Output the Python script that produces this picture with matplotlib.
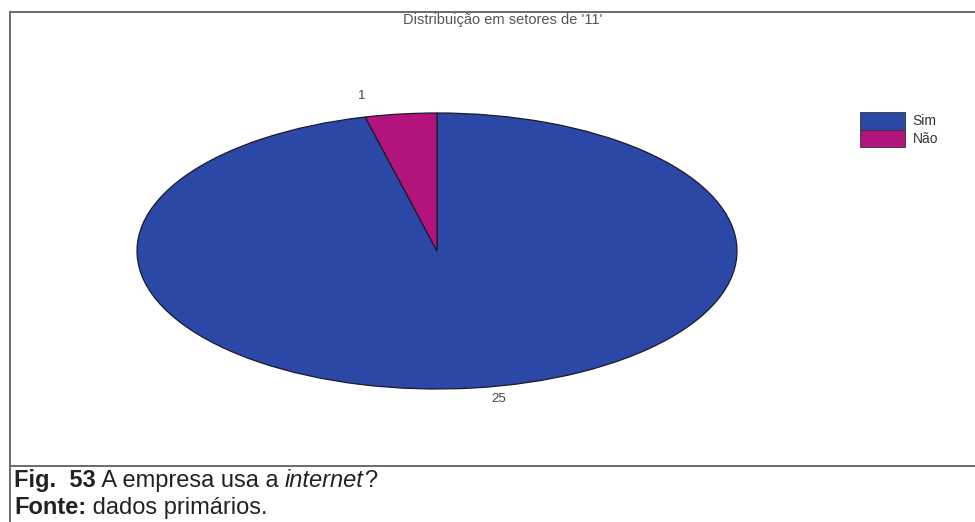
import matplotlib
matplotlib.use("Agg")
import matplotlib.pyplot as plt
from matplotlib.lines import Line2D
from matplotlib.patches import Patch

plt.rcParams['font.family'] = ['Liberation Sans', 'DejaVu Sans']

categories = ["Sim", "Não"]
counts = [25, 1]
colors = ["#2b48a6", "#b3147c"]
title = "Distribuição em setores de '11'"

W, H = 975, 522
fig = plt.figure(figsize=(W / 100, H / 100), dpi=100)
fig.patch.set_facecolor("white")


def fx(px):
    return px / W


def fy(py):
    return 1 - py / H


# frame around the chart area
frame_kw = dict(color="#6a6a6a", lw=1.4, transform=fig.transFigure)
fig.add_artist(Line2D([fx(10), fx(975)], [fy(12), fy(12)], **frame_kw))
fig.add_artist(Line2D([fx(10), fx(10)], [fy(12), fy(522)], **frame_kw))
fig.add_artist(Line2D([fx(10), fx(975)], [fy(466), fy(466)], **frame_kw))

fig.text(fx(503), fy(24), title, ha="center", va="baseline", fontsize=10.5, color="#555555")

# stretched pie (ellipse)
cx, cy, rx, ry = 437, 251, 300, 138
ax = fig.add_axes([fx(cx - rx), fy(cy + ry), (2 * rx) / W, (2 * ry) / H])
wedges, texts = ax.pie(
    counts, labels=[str(c) for c in counts], colors=colors,
    startangle=90, counterclock=False,
    wedgeprops=dict(edgecolor="#1a1a2a", linewidth=0.9),
    textprops=dict(fontsize=9.5, color="#444444"),
)
ax.set_aspect("auto")
ax.set_xlim(-1, 1)
ax.set_ylim(-1, 1)
ax.axis("off")

# value labels sit just outside the rim
label_pos = {"Sim": (0.207, -1.07), "Não": (-0.25, 1.12)}
for name, t in zip(categories, texts):
    t.set_position(label_pos[name])
    t.set_ha("center")
    t.set_va("center")

# legend
handles = [Patch(facecolor=c, edgecolor="#333333", linewidth=0.6) for c in colors]
fig.legend(handles, categories, loc="upper left", bbox_to_anchor=(fx(860), fy(112)),
           frameon=False, fontsize=10, handlelength=3.24, handleheight=1.58,
           handletextpad=0.55, labelspacing=0.0, borderpad=0.0, borderaxespad=0.0,
           labelcolor="#333333")

# caption with mixed styles
fig.canvas.draw()
renderer = fig.canvas.get_renderer()
x = fx(14)
y1 = fy(487)
for txt, kw in [("Fig.  53", dict(fontweight="bold")),
                (" A empresa usa a ", {}),
                ("internet", dict(fontstyle="italic")),
                ("?", {})]:
    t = fig.text(x, y1, txt, fontsize=17, color="#222222", va="baseline", ha="left", **kw)
    bb = t.get_window_extent(renderer)
    x += bb.width / W
x = fx(14)
y2 = fy(514)
for txt, kw in [("Fonte:", dict(fontweight="bold")), (" dados primários.", {})]:
    t = fig.text(x, y2, txt, fontsize=17, color="#222222", va="baseline", ha="left", **kw)
    bb = t.get_window_extent(renderer)
    x += bb.width / W

fig.savefig("out.png", dpi=100)
